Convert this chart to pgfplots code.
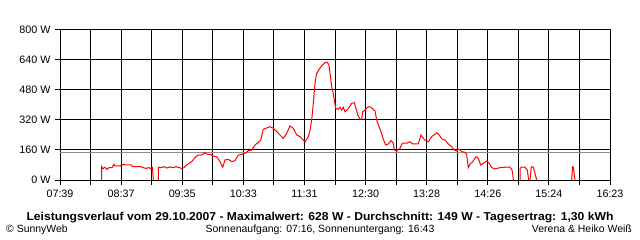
\documentclass[border=0pt]{standalone}
\usepackage{fontspec}
\setmainfont{Liberation Sans}
\usepackage{graphicx}
\usepackage{pgfplots}
\pgfplotsset{compat=1.18}
\begin{document}
\begin{tikzpicture}
\useasboundingbox (0,0) rectangle (640bp,240bp);
\begin{axis}[
  at={(60bp,60bp)}, anchor=south west,
  scale only axis, width=550bp, height=150bp,
  xmin=60, xmax=610, ymin=0, ymax=800,
  xtick={60,90.5556,121.1111,151.6667,182.2222,212.7778,243.3333,273.8889,304.4444,335,365.5556,396.1111,426.6667,457.2222,487.7778,518.3333,548.8889,579.4444,610},
  xticklabels={07:39,,08:37,,09:35,,10:33,,11:31,,12:30,,13:28,,14:26,,15:24,,16:23},
  ytick={0,160,320,480,640,800},
  yticklabels={0 W,160 W,320 W,480 W,640 W,800 W},
  xtick pos=bottom, ytick pos=left,
  tick align=outside, major tick length=5bp,
  tick style={black, line width=1bp},
  grid=major, major grid style={black, line width=1bp},
  axis line style={black, line width=1bp},
  ticklabel style={font=\fontsize{10.8}{12}\selectfont},
  xticklabel style={yshift=-1bp},
  yticklabel style={xshift=-1bp},
  unbounded coords=jump,
  clip=false,
]
\addplot[color={rgb,255:red,140;green,140;blue,140}, line width=1bp] coordinates {(60,149) (610,149)};
\addplot[color={rgb,255:red,255;green,0;blue,0}, line width=1bp] coordinates {
(101.7,0) (101.7,71) (103,60) (105,68) (107,57) (109,66) (112,66) (114,84) (115,75) (120,75) (124,84) (125,80) (131,80) (133,71) (141,71) (143,66) (146,62) (149,66) (151,60) (152.5,66) (153.3,0)
(155,nan)
(158.3,0) (158.5,68) (161,66) (164,71) (167,64) (170,70) (173,66) (176,71) (179,66) (181.7,62) (184,66) (186.7,80) (189,89) (191.7,98) (195,120) (198,133) (201,133) (203,137) (204.3,146) (206,140) (208,137) (210,137) (213.3,128) (216.7,124) (220,98) (222.7,68) (225,107) (228.3,110) (231.7,98) (235,103) (238.3,133) (241.7,137) (245,142) (248.3,156) (251.7,160) (255,187) (258.3,201) (260.7,213) (263.3,270) (266,276) (270,284) (273.3,276) (276.7,258) (280,240) (283.3,222) (286.7,249) (290,288) (293.3,276) (296.7,240) (300,231) (305,203) (308.3,231) (310,263) (311.7,320) (313.3,409) (315,516) (316.7,569) (319,590) (321.7,608) (325,626) (327.3,628) (329,613) (330,569) (331.7,498) (333.3,462) (334.3,427) (335.7,382) (338.3,377) (340,388) (341.7,373) (343.3,388) (345,364) (347.7,377) (350,395) (351.7,409) (354.3,412) (356,382) (357.7,347) (360,324) (361.7,325) (362.7,364) (365,373) (368.3,391) (371,388) (373.3,377) (375,368) (376.7,320) (379,284) (381,258) (383.3,217) (385.7,187) (388.3,192) (391,210) (393.3,196) (394.3,160) (396.7,155) (400,169) (402.3,196) (406.7,196) (410,204) (412.7,192) (418.3,192) (421,240) (422.7,226) (425,213) (428.3,204) (431.7,231) (436.7,252) (439.3,240) (441.7,219) (445,213) (448.3,192) (451.7,178) (454,160) (456.7,155) (459,165) (461.7,151) (465,148) (466.7,137) (468.3,66) (470,84) (472.7,98) (476,124) (478.3,116) (480.7,80) (483.3,89) (486.7,101) (489.3,89) (491.7,66) (495,59) (500,66) (505,68) (510,68) (511.7,57) (512.7,36) (513.3,0)
(516,nan)
(520,0) (520,62) (521.7,68) (525,68) (527.3,53) (528.7,0)
(529.3,nan)
(530,0) (531.3,71) (533.3,68) (535,36) (536.7,0)
(550,nan)
(571.7,0) (572.5,71) (573.3,68) (575,0)
};
\end{axis}
\node[anchor=base, inner sep=0pt] at (320bp,19.5bp) {\scalebox{1.06}[1]{\bfseries\fontsize{11.5}{13}\selectfont Leistungsverlauf vom 29.10.2007 - Maximalwert: 628 W - Durchschnitt: 149 W - Tagesertrag: 1,30 kWh}};
\node[anchor=base west, font=\fontsize{10.5}{12}\selectfont, inner sep=0pt] at (6bp,7.5bp) {© SunnyWeb};
\node[anchor=base, font=\fontsize{10.5}{12}\selectfont, inner sep=0pt] at (320bp,7.5bp) {Sonnenaufgang: 07:16, Sonnenuntergang: 16:43};
\node[anchor=base east, font=\fontsize{10.5}{12}\selectfont, inner sep=0pt] at (632bp,7.5bp) {Verena \& Heiko Weiß};
\end{tikzpicture}
\end{document}
